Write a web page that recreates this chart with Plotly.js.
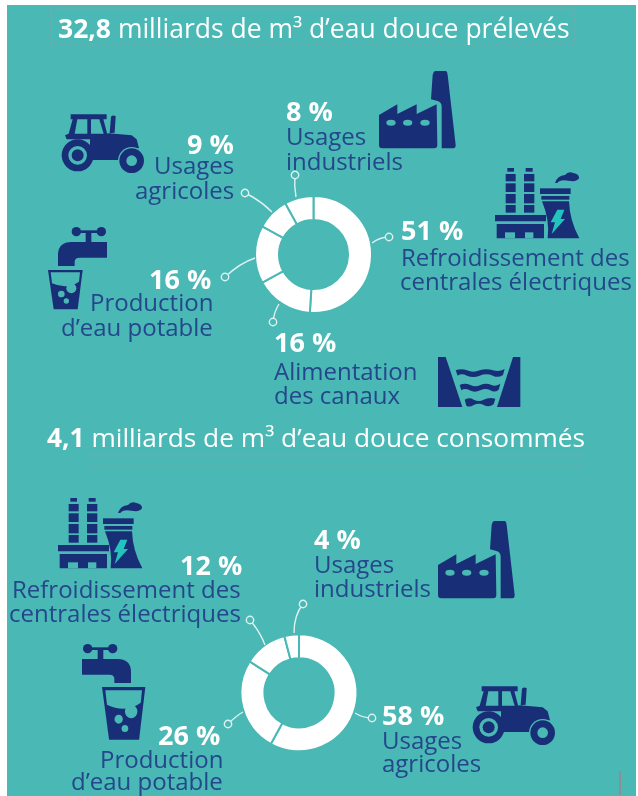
<!DOCTYPE html>
<html lang="fr">
<head>
<meta charset="utf-8">
<script src="https://cdn.plot.ly/plotly-3.0.1.min.js"></script>
<style>
html,body{margin:0;padding:0;background:#fff;}
#chart{width:638px;height:796px;filter:blur(0.5px);}
</style>
</head>
<body>
<div id="chart"></div>
<script>
// ---- data ----
const withdrawnCategories = ["Refroidissement des centrales électriques","Alimentation des canaux","Production d’eau potable","Usages agricoles","Usages industriels"];
const withdrawnValues = [51,16,16,9,8];
const consumedCategories = ["Usages agricoles","Production d’eau potable","Refroidissement des centrales électriques","Usages industriels"];
const consumedValues = [58,26,12,4];
const titleTop = "<b>32,8</b> milliards de m³ d’eau douce prélevés";
const titleBottom = "<b>4,1</b> milliards de m³ d’eau douce consommés";

// ---- style ----
const W=638,H=796;
const TEAL="#4ab8b4",NAVY="#182f78",LABEL="#24478b",BOLT="#22c4bc",WHITE="#ffffff";
const FONT="'Open Sans', Lato, sans-serif";
const px=x=>x/W, py=y=>1-y/H;

const shapes=[];
function addRect(x0,y0,x1,y1,fill){shapes.push({type:'rect',xref:'paper',yref:'paper',x0:px(x0),x1:px(x1),y0:py(y0),y1:py(y1),fillcolor:fill,line:{width:0},layer:'below'});}
function addDash(x0,y0,x1,y1){shapes.push({type:'line',xref:'paper',yref:'paper',x0:px(x0),x1:px(x1),y0:py(y0),y1:py(y1),line:{color:'#86a3a6',width:1.2,dash:'2px,2px'},layer:'below'});}

// Icon parts: paths are in a local drawing space, mapped to the page by fx/fy.
function mapPath(d,fx,fy){
  let i=0;
  return d.replace(/-?\d+(\.\d+)?/g,m=>{const v=parseFloat(m);const r=(i++%2===0)?fx(v):fy(v);return String(r);});
}
function part(list,T){
  const fx=x=>px(T.ox+(x-T.sx)*T.kx), fy=y=>py(T.oy+(y-T.sy)*T.ky);
  list.forEach(p=>{
    if(p.c){
      const [cx,cy,rx,ry]=p.c;const r2=ry===undefined?rx:ry;
      shapes.push({type:'circle',xref:'paper',yref:'paper',x0:fx(cx-rx),x1:fx(cx+rx),y0:fy(cy-r2),y1:fy(cy+r2),fillcolor:p.f,line:{width:0}});
    }else{
      shapes.push({type:'path',xref:'paper',yref:'paper',path:mapPath(p.d,fx,fy),fillcolor:p.f,line:{width:0}});
    }
  });
}
const tractor=[
 {d:"M212 345 L320 345 L320 360 L310 360 L326 420 L200 420 L195 408 L206 403 L218 360 L212 360 Z",f:NAVY},
 {d:"M232 360 L262 360 L262 403 L224 403 Z",f:TEAL},
 {d:"M273 360 L298 360 L311 403 L273 403 Z",f:TEAL},
 {d:"M326 402 L395 408 L410 420 L417 447 L385 450 L358 482 L270 482 L270 420 Z",f:NAVY},
 {d:"M333 352 Q338 346 347 350 L344 400 L329 402 Z",f:NAVY},
 {c:[233,468,48],f:NAVY},{c:[233,468,28],f:TEAL},{c:[233,468,18],f:NAVY},
 {c:[395,484,41],f:TEAL},{c:[395,484,37],f:NAVY},{c:[395,484,16],f:TEAL}
];
const factory=[
 {d:"M345 213 L378 213 Q382 215 383 225 L407 435 Q407 445 400 445 L365 445 L365 320 Q365 305 350 302 L333 298 L338 225 Q340 215 345 213 Z",f:NAVY},
 {d:"M177 345 L232 313 L232 342 L290 313 L290 342 L350 313 L352 435 Q352 445 342 445 L187 445 Q177 445 177 435 Z",f:NAVY},
 {c:[213,368,14,9],f:TEAL},{c:[263,368,14,9],f:TEAL},{c:[315,368,14,9],f:TEAL}
];
function stack(x0,x1){
  const bands=[[507,518,5],[525,547,0],[553,579,0],[585,613,0],[618,641,0]];
  return bands.map(b=>({d:`M${x0+b[2]} ${b[0]} L${x1-b[2]} ${b[0]} L${x1-b[2]} ${b[1]} L${x0+b[2]} ${b[1]} Z`,f:NAVY}));
}
const plant=[
 ...stack(557,587),...stack(612,643),
 {d:"M525 648 L678 648 L678 667 L525 667 Z",f:NAVY},
 {d:"M530 675 L672 675 L672 718 L530 718 Z",f:NAVY},
 {d:"M555 700 L585 700 L585 718 L555 718 Z",f:TEAL},
 {d:"M615 700 L640 700 L640 718 L615 718 Z",f:TEAL},
 {d:"M660 568 L752 568 L752 585 L660 585 Z",f:NAVY},
 {d:"M664 591 L748 591 L748 602 L664 602 Z",f:NAVY},
 {d:"M666 607 L747 607 Q749 665 778 718 L683 718 Q690 665 666 607 Z",f:NAVY},
 {d:"M712 632 L733 632 L722 660 L735 660 L695 705 L705 670 L692 670 Z",f:BOLT},
 {d:"M705 552 Q712 530 735 528 Q745 515 760 522 Q778 525 777 538 Q770 550 745 545 Q720 540 712 552 Z",f:NAVY}
];
const tap=[
 {c:[230,694,14],f:NAVY},{c:[305,694,14],f:NAVY},
 {d:"M230 690 L305 690 L305 698 L230 698 Z",f:NAVY},
 {d:"M258 695 L275 695 L275 727 L258 727 Z",f:NAVY},
 {d:"M175 797 L175 760 Q178 725 215 725 L322 725 L322 772 L240 772 Q225 772 225 785 L225 797 Z",f:NAVY}
];
const glass=[
 {d:"M143 810 L247 810 L232 928 L160 928 Z",f:NAVY},
 {d:"M151 817 L239 817 L236 845 Q200 870 155 850 Z",f:TEAL},
 {c:[213,865,15],f:TEAL},{c:[183,882,10],f:TEAL},{c:[198,903,8],f:TEAL}
];
const canal=[
 {d:"M25 22 L48 22 L98 172 L25 172 Z",f:NAVY},
 {d:"M250 22 L272 22 L272 172 L202 172 Z",f:NAVY},
 {d:"M78 62 Q95 55 112 62 Q130 70 150 62 Q170 55 190 62 Q208 68 225 58 L220 76 Q205 86 190 78 Q170 70 150 78 Q130 86 112 78 Q95 70 84 78 Z",f:NAVY},
 {d:"M90 106 Q105 98 122 106 Q138 114 152 106 Q170 98 185 106 Q198 112 212 102 L207 120 Q195 130 182 122 Q168 114 152 122 Q135 130 120 122 Q105 114 95 122 Z",f:NAVY},
 {d:"M105 150 Q120 142 132 150 Q148 158 162 150 Q178 142 197 147 L192 164 Q178 174 162 166 Q148 158 132 166 Q120 174 110 168 Z",f:NAVY}
];

// background and separators
addRect(7,5,636,796,TEAL);
addDash(51,9,575,9);addDash(51,45,575,45);addDash(51,9,51,45);addDash(575,9,575,45);
addDash(88,455,585,455);addDash(88,467,585,467);
shapes.push({type:'line',xref:'paper',yref:'paper',x0:px(620),x1:px(620),y0:py(771),y1:py(795),line:{color:'#8a8f92',width:2}});

// icons
part(tractor,{ox:62,oy:115,sx:186,sy:347,kx:1/3,ky:1/3});
part(tractor,{ox:473,oy:687,sx:186,sy:347,kx:1/3,ky:1/3});
part(factory,{ox:379,oy:71,sx:177,sy:213,kx:1/3,ky:1/3});
part(factory,{ox:438,oy:521,sx:177,sy:213,kx:1/3,ky:1/3});
part(plant,{ox:495,oy:168,sx:525,sy:507,kx:1/3,ky:1/3});
part(plant,{ox:58,oy:498,sx:525,sy:507,kx:1/3,ky:1/3});
part(tap,{ox:58,oy:227,sx:175,sy:680,kx:1/3,ky:1/3});
part(glass,{ox:48,oy:270,sx:143,sy:810,kx:1/3,ky:1/3});
part(tap,{ox:131,oy:644,sx:175,sy:680,kx:-1/3,ky:1/3});
part(glass,{ox:102,oy:687,sx:143,sy:810,kx:1.25/3,ky:1.34/3});
part(canal,{ox:438,oy:357,sx:25,sy:22,kx:1/3,ky:1/3});

// leader lines: [line end on the ring, control, small circle]
const leaders=[
 [372,243,380,237,389,237],[296,197,294,186,295,175],[272,212,260,200,245,193],
 [255,258,240,263,225,277],[279,304,274,312,273,322],
 [265,645,260,632,250,620],[294,633,294,615,303,604],[243,712,236,716,228,724],[355,713,363,718,372,718]
];
leaders.forEach(l=>{
  shapes.push({type:'path',xref:'paper',yref:'paper',path:`M${px(l[0])} ${py(l[1])} Q${px(l[2])} ${py(l[3])} ${px(l[4])} ${py(l[5])}`,line:{color:'#dff2f1',width:1.4},fillcolor:'rgba(0,0,0,0)'});
  shapes.push({type:'circle',xref:'paper',yref:'paper',x0:px(l[4]-3.7),x1:px(l[4]+3.7),y0:py(l[5]+3.7),y1:py(l[5]-3.7),line:{color:'#dff2f1',width:1.4},fillcolor:TEAL});
});

// text
const annotations=[];
function txt(t,x,y,anchor,size,color,bold){
  annotations.push({text:bold?`<b>${t}</b>`:t,x:px(x),y:py(y),xref:'paper',yref:'paper',xanchor:anchor,yanchor:'middle',showarrow:false,align:anchor,borderpad:0,
    font:{family:FONT,size:size,color:color}});
}
const PCT=27,LAB=24;
txt(titleTop,57,28,'left',26.5,WHITE,false);
txt(titleBottom,46,437,'left',26.3,WHITE,false);
const rows=[
 [withdrawnValues[4]+" %",285,111,'left',true],["Usages",285,136,'left'],["industriels",285,161,'left'],
 [withdrawnValues[3]+" %",235,143,'right',true],["Usages",235,165,'right'],["agricoles",235,190,'right'],
 [withdrawnValues[2]+" %",212,278,'right',true],["Production",214,302,'right'],["d’eau potable",214,326,'right'],
 [withdrawnValues[1]+" %",273,342,'left',true],["Alimentation",273,371,'left'],["des canaux",273,394,'left'],
 [withdrawnValues[0]+" %",400,230,'left',true],["Refroidissement des",400,256,'left'],["centrales électriques",399,280,'left'],
 [consumedValues[2]+" %",243,564,'right',true],["Refroidissement des",242,588,'right'],["centrales électriques",242,612,'right'],
 [consumedValues[3]+" %",313,538,'left',true],["Usages",313,563,'left'],["industriels",313,587,'left'],
 [consumedValues[1]+" %",221,734,'right',true],["Production",224,758,'right'],["d’eau potable",224,780,'right'],
 [consumedValues[0]+" %",381,714,'left',true],["Usages",381,739,'left'],["agricoles",381,762,'left']
];
rows.forEach(r=>r[4]?txt(r[0],r[1],r[2],r[3],PCT,WHITE,true):txt(r[0],r[1],r[2],r[3],LAB,LABEL,false));

// donuts
function donut(labels,values,cx,cy,r){
  return {type:'pie',labels:labels,values:values,sort:false,direction:'clockwise',rotation:0,hole:0.59,
    domain:{x:[px(cx-r),px(cx+r)],y:[py(cy+r),py(cy-r)]},
    marker:{colors:values.map(()=>WHITE),line:{color:TEAL,width:2}},
    textinfo:'none',hoverinfo:'label+percent',showlegend:false};
}
const data=[donut(withdrawnCategories,withdrawnValues,313.5,254.5,58.5),donut(consumedCategories,consumedValues,299,692.8,58.5)];

Plotly.newPlot('chart',data,{
  width:W,height:H,margin:{l:0,r:0,t:0,b:0,pad:0},
  paper_bgcolor:'#ffffff',plot_bgcolor:'rgba(0,0,0,0)',showlegend:false,
  shapes:shapes,annotations:annotations,font:{family:FONT}
},{displayModeBar:false,responsive:false});
</script>
</body>
</html>
